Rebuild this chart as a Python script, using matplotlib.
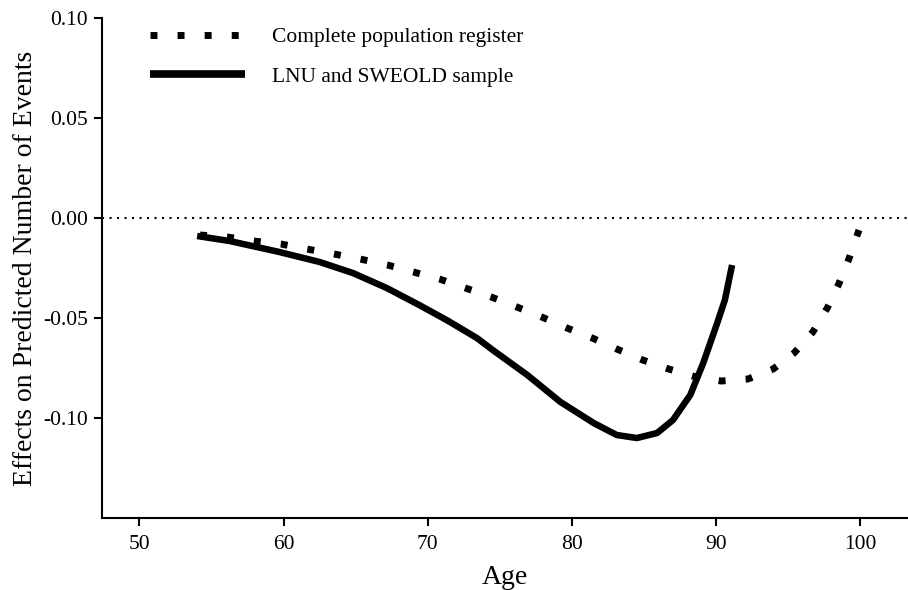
import matplotlib
matplotlib.use("Agg")
import matplotlib.pyplot as plt

plt.rcParams['font.family'] = ['Liberation Serif', 'DejaVu Serif']

# Complete population register (dotted)
age_reg = [54.2, 56.1, 57.9, 59.8, 61.6, 63.5, 65.3, 67.2, 69.0, 70.8, 72.6, 74.4,
           76.0, 77.9, 79.65, 81.4, 83.1, 84.9, 86.7, 88.6, 90.35, 92.2, 93.95,
           95.4, 96.7, 97.7, 98.5, 99.2, 99.9]
eff_reg = [-0.0085, -0.0095, -0.0115, -0.013, -0.0155, -0.018, -0.0205, -0.0235,
           -0.027, -0.0305, -0.035, -0.0395, -0.044, -0.0495, -0.055, -0.060,
           -0.0655, -0.071, -0.0755, -0.0795, -0.0815, -0.0805, -0.0755, -0.0675,
           -0.057, -0.045, -0.033, -0.0205, -0.006]

# LNU and SWEOLD sample (solid)
age_smp = [54.0, 56.25, 59.7, 62.5, 64.8, 67.15, 69.4, 71.3, 73.4, 74.5, 76.9,
           79.2, 81.5, 83.1, 84.5, 85.9, 87.0, 88.2, 89.1, 90.07, 90.6, 91.1]
eff_smp = [-0.009, -0.0115, -0.017, -0.022, -0.0275, -0.035, -0.0435, -0.051,
           -0.060, -0.066, -0.0785, -0.092, -0.1025, -0.1085, -0.110, -0.1075,
           -0.101, -0.0885, -0.0725, -0.0525, -0.041, -0.0235]

xticks = [50, 60, 70, 80, 90, 100]
yticks = [-0.10, -0.05, 0.00, 0.05, 0.10]
ytick_labels = ["-0.10", "-0.05", "0.00", "0.05", "0.10"]

fig = plt.figure(figsize=(9.08, 5.90), dpi=100)
ax = fig.add_axes([0.1123, 0.122, 0.8877, 0.8475])

ax.axhline(0, color='black', lw=1.5, linestyle=(0, (1, 2.6)), dash_capstyle='butt')
ax.plot(age_reg, eff_reg, color='black', lw=5, linestyle=(0, (1, 2.9)),
        dash_capstyle='butt', label='Complete population register')
ax.plot(age_smp, eff_smp, color='black', lw=4.7, solid_capstyle='butt',
        solid_joinstyle='round', label='LNU and SWEOLD sample')

ax.set_xlim(47.4, 103.3)
ax.set_ylim(-0.15, 0.10)
ax.set_xticks(xticks)
ax.set_yticks(yticks)
ax.set_yticklabels(ytick_labels)
ax.tick_params(labelsize=15.5, width=1.5, length=6, direction='out')
ax.tick_params(axis='x', pad=6)
ax.tick_params(axis='y', pad=4)
for s in ['top', 'right']:
    ax.spines[s].set_visible(False)
for s in ['left', 'bottom']:
    ax.spines[s].set_linewidth(1.5)

ax.set_xlabel('Age', fontsize=20, labelpad=8)
ax.set_ylabel('Effects on Predicted Number of Events', fontsize=20, labelpad=4)

leg = ax.legend(loc='upper left', frameon=False, fontsize=15.5, handlelength=4.4,
                handletextpad=1.25, labelspacing=0.9, borderaxespad=0,
                bbox_to_anchor=(0.049, 0.999))
leg.get_lines()[1].set_linewidth(5.5)

fig.savefig('out.png', dpi=100)
